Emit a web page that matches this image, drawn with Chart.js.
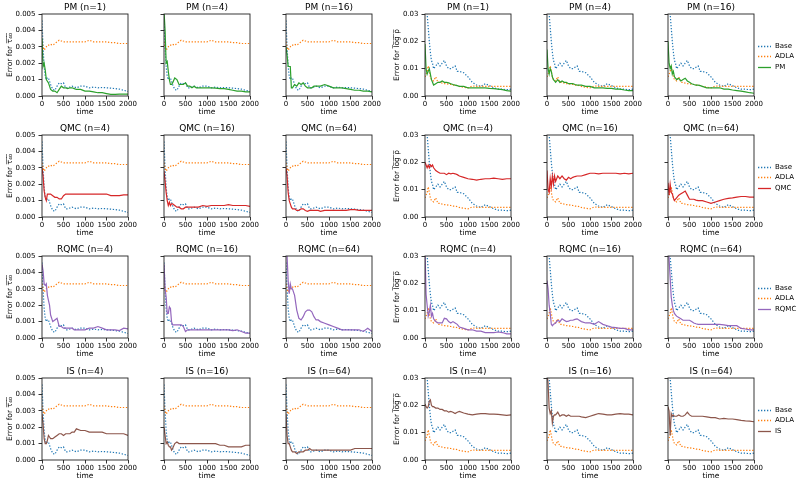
<!DOCTYPE html>
<html><head><meta charset="utf-8">
<script src="https://cdn.jsdelivr.net/npm/chart.js@4"></script>
<style>
html,body{margin:0;padding:0;background:#fff;width:804px;height:486px;overflow:hidden;position:relative}
canvas{position:absolute}
</style></head><body>
<script>
// ---------------- DATA ----------------
const T = [0,25,50,75,100,125,150,175,200,250,300,350,400,450,500,550,600,650,700,750,800,900,1000,1100,1200,1300,1400,1500,1600,1700,1800,1900,2000];

const baseTau = [0.0046,0.0030,0.0018,0.0012,0.0010,0.0011,0.0011,0.0009,0.0007,0.0004,0.00035,0.0006,0.0008,0.00075,0.0008,0.0005,0.0005,0.00055,0.0006,0.00055,0.0005,0.0006,0.0006,0.0005,0.00055,0.0005,0.00052,0.0005,0.00048,0.00045,0.00042,0.00035,0.00028];
const adlaTau = [0.0033,0.0030,0.0028,0.0029,0.0030,0.0031,0.0031,0.0031,0.00315,0.0031,0.0032,0.0033,0.0034,0.00335,0.0033,0.0033,0.0033,0.0033,0.0033,0.0033,0.0033,0.0033,0.0033,0.0034,0.0033,0.0033,0.0033,0.0033,0.00325,0.00325,0.0032,0.0032,0.0032];
const baseLog = [0.06,0.04,0.030,0.025,0.020,0.016,0.013,0.012,0.010,0.011,0.012,0.011,0.012,0.013,0.011,0.010,0.010,0.0105,0.011,0.009,0.009,0.0085,0.007,0.005,0.004,0.0035,0.0045,0.0038,0.003,0.0025,0.0025,0.0023,0.0025];
const adlaLog = [0.007,0.008,0.009,0.011,0.009,0.007,0.006,0.0058,0.0055,0.007,0.005,0.005,0.0047,0.0045,0.0045,0.0043,0.0042,0.004,0.004,0.0038,0.0035,0.0032,0.003,0.0037,0.0035,0.0035,0.0035,0.0035,0.0035,0.0035,0.0035,0.0035,0.0035];

const pmTau1  = [0.0035,0.0018,0.0020,0.0016,0.0010,0.0009,0.0008,0.0006,0.0004,0.0003,0.0003,0.0002,0.0004,0.0006,0.0005,0.0005,0.00045,0.0005,0.0005,0.00045,0.0004,0.0004,0.0003,0.0003,0.00025,0.0002,0.0002,0.00015,0.0001,0.0001,0.00012,0.00012,0.00012];
const pmTau4  = [0.0052,0.0040,0.0020,0.0021,0.0015,0.0010,0.0007,0.0007,0.0008,0.0011,0.0010,0.0007,0.0007,0.0007,0.0008,0.0006,0.0006,0.0005,0.0006,0.0005,0.0005,0.0005,0.0005,0.0005,0.00048,0.00045,0.00045,0.0004,0.00035,0.0003,0.0003,0.00025,0.00025];
const pmTau16 = [0.0030,0.0025,0.0018,0.0018,0.0018,0.0005,0.0005,0.0006,0.0007,0.0006,0.0008,0.0007,0.0008,0.0006,0.0005,0.0005,0.0005,0.0006,0.0006,0.0006,0.0006,0.0007,0.0006,0.0005,0.0005,0.0005,0.00045,0.0004,0.00035,0.00035,0.0003,0.0003,0.00025];
const qmcTau4  = [0.0030,0.0025,0.0016,0.0012,0.0010,0.0014,0.0014,0.0014,0.0014,0.0013,0.0012,0.0012,0.0011,0.0011,0.0013,0.0014,0.0014,0.0014,0.0014,0.0014,0.0014,0.0014,0.0014,0.0014,0.0014,0.0014,0.0014,0.0014,0.0013,0.0013,0.0013,0.00135,0.00135];
const qmcTau16 = [0.0028,0.0022,0.0015,0.0010,0.0007,0.0009,0.0007,0.0008,0.0008,0.0007,0.0006,0.0006,0.0005,0.0005,0.0006,0.0006,0.0006,0.0006,0.0006,0.0006,0.0006,0.0007,0.00065,0.0007,0.0007,0.0007,0.0007,0.00075,0.0007,0.0007,0.0007,0.0007,0.00065];
const qmcTau64 = [0.0030,0.0025,0.0015,0.0010,0.0008,0.0006,0.0005,0.0005,0.0005,0.0004,0.0004,0.0005,0.0005,0.0004,0.00035,0.0004,0.0004,0.0004,0.0004,0.0004,0.00035,0.0004,0.0004,0.0004,0.0004,0.0004,0.0004,0.00045,0.00045,0.0004,0.0004,0.0004,0.0004];
const rqmcTau4  = [0.0045,0.0041,0.0033,0.0032,0.0033,0.0026,0.0023,0.0020,0.0014,0.0010,0.0011,0.0012,0.0007,0.0007,0.0006,0.0006,0.0006,0.0006,0.0006,0.0005,0.0005,0.0005,0.0005,0.0006,0.0006,0.0007,0.0006,0.0005,0.0005,0.0005,0.00045,0.0006,0.00055];
const rqmcTau16 = [0.0045,0.0030,0.0025,0.0015,0.0015,0.0019,0.0018,0.0010,0.0008,0.0008,0.0008,0.0008,0.0008,0.0007,0.0004,0.0005,0.0005,0.0005,0.0005,0.0005,0.0005,0.0005,0.0005,0.0005,0.0005,0.0005,0.0005,0.0005,0.00045,0.0005,0.0004,0.0003,0.0003];
const rqmcTau64 = [0.0060,0.0050,0.0035,0.0027,0.0033,0.0030,0.0030,0.0028,0.0026,0.0017,0.0012,0.0011,0.0013,0.0016,0.0017,0.0017,0.0016,0.0013,0.0011,0.0011,0.0010,0.0009,0.0008,0.0007,0.0006,0.0005,0.0005,0.0005,0.0005,0.0005,0.0004,0.0006,0.0004];
const isTau4  = [0.0028,0.0022,0.0013,0.0010,0.0010,0.0012,0.0015,0.0014,0.0013,0.0013,0.0014,0.0015,0.0016,0.0016,0.0015,0.0016,0.0016,0.0016,0.0017,0.0017,0.0019,0.0018,0.0018,0.0017,0.0017,0.0017,0.0017,0.0016,0.0016,0.0016,0.0016,0.0016,0.0015];
const isTau16 = [0.0020,0.0015,0.0010,0.0011,0.0009,0.0008,0.0008,0.0006,0.0007,0.0010,0.0011,0.0010,0.0010,0.0010,0.0010,0.0010,0.0010,0.0010,0.0010,0.0010,0.0010,0.0010,0.0010,0.0010,0.0010,0.0009,0.0009,0.0008,0.0008,0.0008,0.0008,0.0009,0.0009];
const isTau64 = [0.0028,0.0015,0.0010,0.0010,0.0008,0.0006,0.0005,0.0005,0.0005,0.0004,0.0005,0.0005,0.0005,0.0006,0.0006,0.0007,0.0006,0.0006,0.0006,0.0006,0.0006,0.0006,0.0006,0.0006,0.0006,0.0006,0.0006,0.0006,0.0007,0.0007,0.0007,0.0007,0.0007];

const pmLog1  = [0.019,0.010,0.008,0.009,0.010,0.008,0.006,0.005,0.004,0.0045,0.005,0.005,0.0055,0.005,0.005,0.0048,0.0045,0.0042,0.004,0.0038,0.0035,0.0035,0.003,0.003,0.003,0.003,0.003,0.0028,0.0027,0.0025,0.0023,0.002,0.0018];
const pmLog4  = [0.017,0.010,0.008,0.010,0.009,0.007,0.006,0.0055,0.005,0.006,0.005,0.0055,0.005,0.005,0.0045,0.0045,0.0045,0.0042,0.004,0.004,0.004,0.0035,0.0035,0.003,0.003,0.003,0.0028,0.0028,0.0025,0.0025,0.0022,0.002,0.002];
const pmLog16 = [0.020,0.012,0.010,0.011,0.008,0.009,0.007,0.0065,0.006,0.0065,0.0055,0.006,0.0065,0.0055,0.005,0.0045,0.0042,0.004,0.004,0.0038,0.0035,0.003,0.003,0.003,0.003,0.0025,0.0025,0.0022,0.002,0.0018,0.0015,0.0012,0.001];
const qmcLog4  = [0.020,0.019,0.018,0.019,0.018,0.019,0.0185,0.019,0.018,0.017,0.0165,0.016,0.016,0.016,0.0155,0.016,0.0158,0.016,0.0158,0.0155,0.015,0.0145,0.014,0.0138,0.0135,0.0138,0.014,0.014,0.0142,0.014,0.0138,0.014,0.014];
const qmcLog16 = [0.017,0.010,0.009,0.014,0.011,0.015,0.012,0.015,0.013,0.015,0.014,0.015,0.014,0.0135,0.0145,0.014,0.0145,0.0148,0.015,0.015,0.015,0.0155,0.016,0.016,0.0158,0.016,0.016,0.016,0.016,0.0158,0.016,0.0158,0.016];
const qmcLog64 = [0.0125,0.008,0.012,0.009,0.0085,0.007,0.006,0.0065,0.007,0.008,0.0085,0.009,0.0095,0.008,0.0065,0.0065,0.0065,0.0062,0.006,0.006,0.006,0.0055,0.005,0.0055,0.006,0.0065,0.0068,0.007,0.0073,0.0075,0.0075,0.0073,0.0073];
const rqmcLog4  = [0.032,0.016,0.012,0.008,0.0095,0.012,0.008,0.009,0.007,0.006,0.0055,0.0055,0.0055,0.0072,0.007,0.006,0.0055,0.006,0.0055,0.005,0.004,0.0035,0.003,0.003,0.0025,0.0025,0.002,0.002,0.002,0.0022,0.002,0.0015,0.0015];
const rqmcLog16 = [0.021,0.018,0.012,0.009,0.005,0.0045,0.005,0.0052,0.0055,0.0065,0.006,0.007,0.0065,0.006,0.0062,0.0065,0.0065,0.0068,0.007,0.0065,0.006,0.0055,0.0055,0.005,0.006,0.005,0.0045,0.004,0.0038,0.0035,0.0035,0.003,0.003];
const rqmcLog64 = [0.035,0.029,0.022,0.015,0.012,0.010,0.009,0.0085,0.008,0.0075,0.007,0.0065,0.0065,0.0065,0.0065,0.006,0.0055,0.0052,0.005,0.005,0.005,0.005,0.005,0.005,0.005,0.0048,0.0045,0.0045,0.0045,0.0035,0.0033,0.003,0.003];
const isLog4  = [0.0205,0.0195,0.019,0.0195,0.0215,0.022,0.020,0.0195,0.0195,0.019,0.019,0.0185,0.0185,0.018,0.018,0.0175,0.0178,0.0175,0.017,0.0175,0.0178,0.0172,0.0168,0.0165,0.0168,0.017,0.017,0.0168,0.0168,0.0167,0.0165,0.0163,0.0165];
const isLog16 = [0.032,0.028,0.019,0.017,0.018,0.0135,0.016,0.0165,0.0165,0.0175,0.016,0.0165,0.0165,0.016,0.0165,0.016,0.016,0.016,0.016,0.016,0.0158,0.0155,0.016,0.0165,0.017,0.0168,0.0165,0.0165,0.0168,0.017,0.0168,0.0168,0.0165];
const isLog64 = [0.0195,0.018,0.009,0.017,0.016,0.0165,0.016,0.016,0.016,0.0165,0.016,0.016,0.0165,0.0175,0.0165,0.016,0.016,0.016,0.016,0.016,0.016,0.0158,0.0155,0.0155,0.015,0.0152,0.015,0.015,0.0148,0.0145,0.0143,0.0142,0.014];

const methodNames = ['PM','QMC','RQMC','IS'];
const pmN = [1,4,16];
const otherN = [4,16,64];
const tauTickLabels = ['0.000','0.001','0.002','0.003','0.004','0.005'];
const logTickLabels = ['0.00','0.01','0.02','0.03'];
const timeTickLabels = ['0','500','1000','1500','2000'];

const tauSeries = {PM:[pmTau1,pmTau4,pmTau16], QMC:[qmcTau4,qmcTau16,qmcTau64], RQMC:[rqmcTau4,rqmcTau16,rqmcTau64], IS:[isTau4,isTau16,isTau64]};
const logSeries = {PM:[pmLog1,pmLog4,pmLog16], QMC:[qmcLog4,qmcLog16,qmcLog64], RQMC:[rqmcLog4,rqmcLog16,rqmcLog64], IS:[isLog4,isLog16,isLog64]};

// ---------------- STYLE / LAYOUT ----------------
const METHOD_COLOR = {PM:'#2ca02c', QMC:'#d62728', RQMC:'#9467bd', IS:'#8c564b'};
const BASE_COLOR = '#1f77b4', ADLA_COLOR = '#ff7f0e';
const COL_LEFT = [42,164,286,425,547,668];
const ROW_TOP = [14,135,256,378];
const PW = 86, PH = 82, YW = 40, TITLE_H = 13, XH = 23;
const FONT = "'DejaVu Sans', sans-serif";
const Y_TITLE_PAD = [3.6, 0, 0, 7.8, 0, 0];
const TAU_LABEL = 'Error for \u03C4\u0305\u2084\u0305\u2080\u0305';
const LOG_LABEL = 'Error for l\u0305o\u0305g\u0305 \u0305\u03C1\u0305';

Chart.defaults.font.family = FONT;
Chart.defaults.color = '#000';

const framePlugin = {
  id: 'frame',
  afterDraw(chart) {
    const {ctx, chartArea: a} = chart;
    ctx.save();
    ctx.strokeStyle = '#222';
    ctx.lineWidth = 0.9;
    ctx.strokeRect(a.left, a.top, a.right - a.left, a.bottom - a.top);
    ctx.restore();
  }
};

const sideLegendPlugin = {
  id: 'sideLegend',
  afterDraw(chart, args, opts) {
    if (!opts || !opts.show) return;
    const {ctx, chartArea: a} = chart;
    const order = ['Base', 'ADLA', chart.data.datasets[0].label];
    const cy = (a.top + a.bottom) / 2;
    ctx.save();
    ctx.font = '7px ' + FONT;
    ctx.textBaseline = 'middle';
    ctx.textAlign = 'left';
    order.forEach((lab, i) => {
      const ds = chart.data.datasets.find(d => d.label === lab);
      const y = Math.round(cy + 1 + (i - 1) * 10.5) + 0.5;
      ctx.strokeStyle = ds.borderColor;
      ctx.lineWidth = Math.max(ds.borderWidth, 1.3);
      ctx.setLineDash(ds.borderDash || []);
      ctx.beginPath();
      ctx.moveTo(a.right + 4, y);
      ctx.lineTo(a.right + 17, y);
      ctx.stroke();
      ctx.setLineDash([]);
      ctx.fillStyle = '#000';
      ctx.fillText(lab, a.right + 21, y);
    });
    ctx.restore();
  }
};

const toXY = arr => T.map((t, i) => ({x: t, y: arr[i]}));

function makePanel(r, c) {
  const method = methodNames[r];
  const isLog = c >= 3;
  const k = c % 3;
  const n = (method === 'PM' ? pmN : otherN)[k];
  const series = (isLog ? logSeries : tauSeries)[method][k];
  const rp = (c === 5) ? 52 : 14;
  const W = YW + PW + rp, H = TITLE_H + PH + XH;
  const cv = document.createElement('canvas');
  cv.width = W; cv.height = H;
  cv.style.left = (COL_LEFT[c] - YW) + 'px';
  cv.style.top = (ROW_TOP[r] - TITLE_H) + 'px';
  cv.style.width = W + 'px'; cv.style.height = H + 'px';
  document.body.appendChild(cv);
  const showY = (c === 0 || c === 3);
  const yLabels = isLog ? logTickLabels : tauTickLabels;
  const dash = [1.3, 1.7];
  new Chart(cv, {
    type: 'line',
    data: {datasets: [
      {label: method, data: toXY(series), borderColor: METHOD_COLOR[method], borderWidth: 1.2, pointRadius: 0, order: 0, tension: 0},
      {label: 'ADLA', data: toXY(isLog ? adlaLog : adlaTau), borderColor: ADLA_COLOR, borderWidth: 1.2, borderDash: dash, pointRadius: 0, order: 1, tension: 0},
      {label: 'Base', data: toXY(isLog ? baseLog : baseTau), borderColor: BASE_COLOR, borderWidth: 1.2, borderDash: dash, pointRadius: 0, order: 2, tension: 0}
    ]},
    options: {
      responsive: false, animation: false, devicePixelRatio: 1,
      events: [],
      layout: {padding: {left: 0, right: rp, top: 0, bottom: 0}},
      plugins: {
        legend: {display: false},
        tooltip: {enabled: false},
        title: {display: true, text: method + ' (n=' + n + ')', fullSize: false, color: '#000',
                font: {size: 9, weight: 'normal', family: FONT}, padding: {top: 1, bottom: 1.2}},
        sideLegend: {show: c === 5}
      },
      scales: {
        x: {
          type: 'linear', min: 0, max: 2000,
          afterBuildTicks: s => { s.ticks = timeTickLabels.map(l => ({value: parseFloat(l)})); },
          afterFit: s => { s.height = XH; s.paddingLeft = 0; s.paddingRight = 0; },
          ticks: {autoSkip: false, maxRotation: 0, minRotation: 0, padding: 0.5, font: {size: 7}, color: '#000',
                  callback: (v, i) => timeTickLabels[i]},
          grid: {display: true, drawOnChartArea: false, drawTicks: true, tickLength: 3.5, tickColor: '#000', tickWidth: 0.8},
          border: {display: false},
          title: {display: true, text: 'time', color: '#000', font: {size: 7.5}, padding: {top: 0, bottom: 2}}
        },
        y: {
          type: 'linear', min: 0, max: isLog ? 0.03 : 0.005,
          afterBuildTicks: s => { s.ticks = yLabels.map(l => ({value: parseFloat(l)})); },
          afterFit: s => { s.width = YW; s.paddingTop = 0; s.paddingBottom = 0; },
          ticks: {display: showY, autoSkip: false, padding: 3, font: {size: 7}, color: '#000',
                  callback: (v, i) => yLabels[i]},
          grid: {display: true, drawOnChartArea: false, drawTicks: true, tickLength: 3.5, tickColor: '#000', tickWidth: 0.8},
          border: {display: false},
          title: {display: showY, text: isLog ? LOG_LABEL : TAU_LABEL, color: '#000', font: {size: 7.5},
                  padding: {top: Y_TITLE_PAD[c], bottom: 0}}
        }
      }
    },
    plugins: [framePlugin, sideLegendPlugin]
  });
}

for (let r = 0; r < 4; r++) for (let c = 0; c < 6; c++) makePanel(r, c);
</script>
</body></html>
